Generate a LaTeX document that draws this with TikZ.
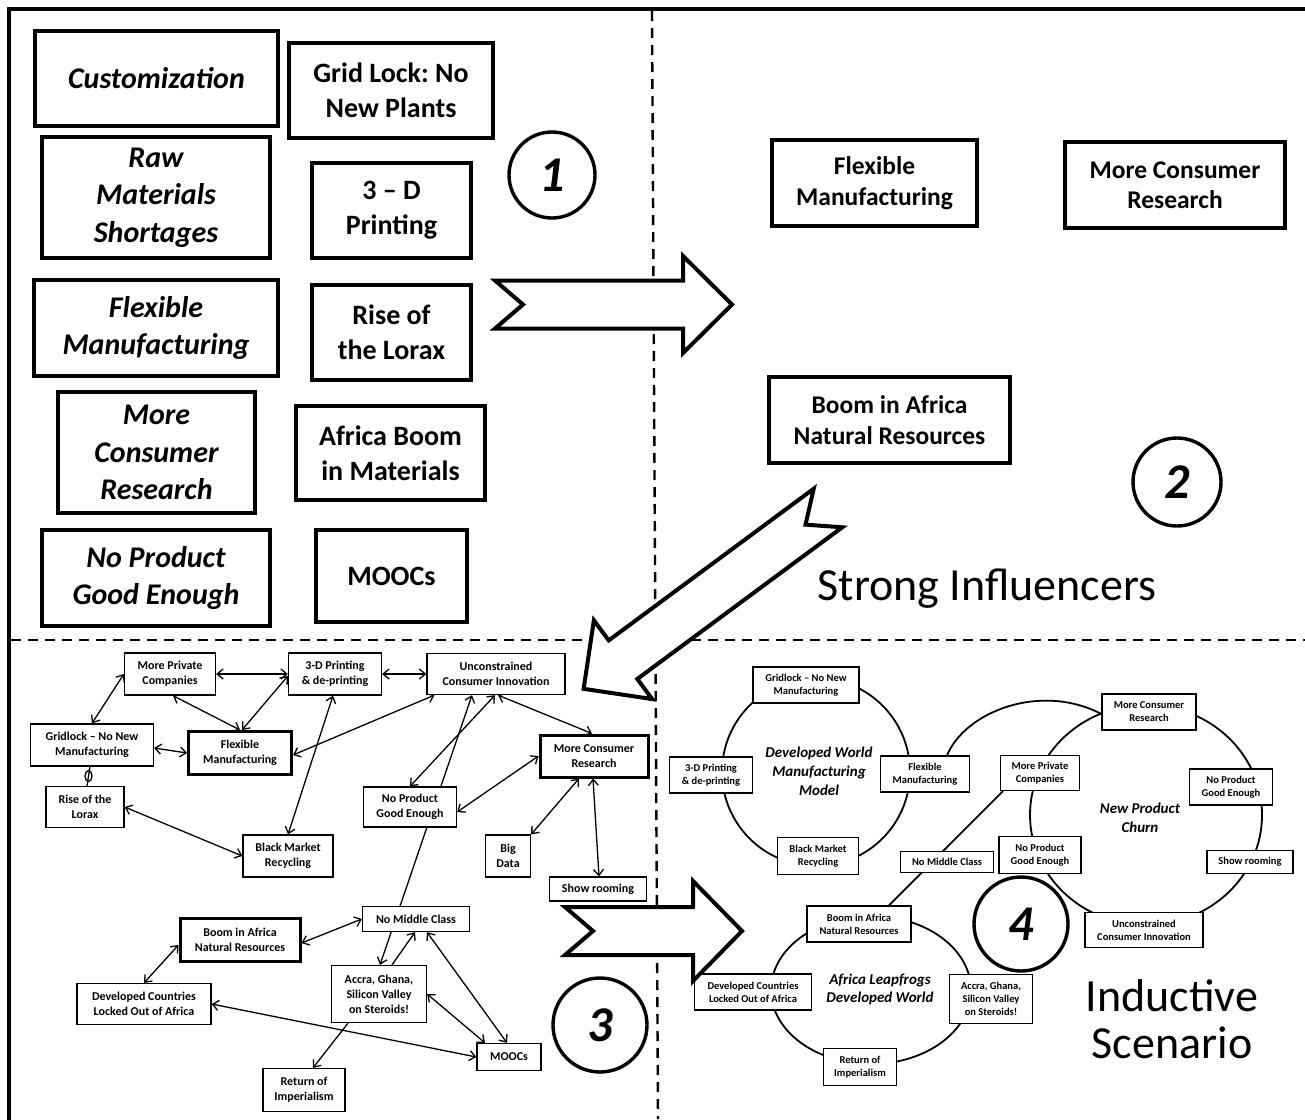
\documentclass[tikz,border=0pt]{standalone}
\usepackage{fontspec}
\setmainfont{Carlito}
\usetikzlibrary{arrows.meta}
\pgfdeclarelayer{bg}
\pgfdeclarelayer{links}
\pgfsetlayers{bg,links,main}
\frenchspacing

% broad block arrow: tail centre, angle, shaft length, head half-width
\newcommand\fatarrow[4]{%
  \draw[fat, shift={#1}, rotate=#2]
    (0,-24) -- (#3,-24) -- (#3,-#4) -- ({#3+49},0) -- (#3,#4) -- (#3,24) -- (0,24) -- (28,0) -- cycle;}

\begin{document}
\begin{tikzpicture}[x=1pt,y=-1pt,
  bigbox/.style={draw, line width=3.6pt, fill=white, inner sep=0pt, align=center},
  itbox/.style={bigbox, font=\fontsize{30}{37.5}\selectfont\bfseries\itshape},
  upbox/.style={bigbox, font=\fontsize{28}{35}\selectfont\bfseries},
  midbox/.style={draw, line width=4pt, fill=white, inner sep=0pt, align=center,
    font=\fontsize{25.5}{30.5}\selectfont\bfseries},
  smallbox/.style={draw, line width=1.3pt, fill=white, inner sep=0pt, align=center,
    font=\fontsize{12}{15}\selectfont\bfseries},
  keybox/.style={smallbox, line width=3pt},
  tinybox/.style={draw, line width=1.2pt, fill=white, inner sep=0pt, align=center,
    font=\fontsize{10.5}{13}\selectfont\bfseries},
  barb/.tip={Straight Barb[length=6pt,width=10pt]},
  link/.style={line width=1.3pt, barb-barb},
  onelink/.style={line width=1.3pt, -barb},
  ring/.style={line width=1.8pt},
  numring/.style={draw, circle, line width=3.4pt, inner sep=0pt,
    font=\fontsize{50}{50}\selectfont\bfseries\itshape},
  fat/.style={line width=4pt, fill=white, line join=miter},
  divider/.style={line width=2.4pt, dash pattern=on 10pt off 7pt},
  bigtext/.style={align=center, font=\fontsize{46}{47}\selectfont},
  ringlabel/.style={align=center, font=\fontsize{15}{19}\selectfont\bfseries\itshape}]

\useasboundingbox (0,0) rectangle (1305,1119);
\begin{pgfonlayer}{bg}
  \fill[white] (0,0) rectangle (1305,1119);
\end{pgfonlayer}

% frame and quadrant dividers
\draw[line width=4pt] (9,9) rectangle (1312,1130);
\draw[divider] (652,11) -- (658,1119);
\draw[divider] (11,640) -- (1305,640);

% ---------- quadrant 1: candidate drivers ----------
\node[itbox, minimum width=243pt, minimum height=95pt] (cust1) at (156.5,78.5) {Customization};
\node[itbox, minimum width=228pt, minimum height=121pt] (raw1) at (156,197.5) {Raw\\Materials\\Shortages};
\node[itbox, minimum width=244pt, minimum height=96pt] (flex1) at (156,328) {Flexible\\Manufacturing};
\node[itbox, minimum width=197pt, minimum height=121pt] (mcr1) at (156.5,452.5) {More\\Consumer\\Research};
\node[itbox, minimum width=228pt, minimum height=96pt] (npg1) at (156,578) {No Product\\Good Enough};

\node[upbox, minimum width=204pt, minimum height=95pt] (grid1) at (391,90.5) {Grid Lock: No\\New Plants};
\node[upbox, minimum width=159pt, minimum height=95pt] (dp1) at (391.5,210.5) {3 – D\\Printing};
\node[upbox, minimum width=159pt, minimum height=95pt] (lor1) at (391.5,332.5) {Rise of\\the Lorax};
\node[upbox, minimum width=189pt, minimum height=94pt] (afr1) at (390.5,453) {Africa Boom\\in Materials};
\node[upbox, minimum width=151pt, minimum height=92pt] (mooc1) at (391.5,576) {MOOCs};

\node[numring, minimum size=86pt] (n1) at (552,175) {1};

% ---------- quadrant 2: strong influencers ----------
\node[midbox, minimum width=205pt, minimum height=86pt] (fm2) at (874.5,183) {Flexible\\Manufacturing};
\node[midbox, minimum width=220pt, minimum height=86pt] (mcr2) at (1175,185) {More Consumer\\Research};
\node[midbox, minimum width=241pt, minimum height=86pt] (baf2) at (889.5,420) {Boom in Africa\\Natural Resources};
\node[numring, minimum size=88pt] (n2) at (1177,482) {2};
\node[bigtext] (strong) at (987,589) {Strong Influencers};

% ---------- quadrant 3: influence network ----------
\node[smallbox, minimum width=91pt, minimum height=42pt] (mpc3) at (170,674) {More Private\\Companies};
\node[smallbox, minimum width=93pt, minimum height=42pt] (dp3) at (335,674) {3-D Printing\\\& de-printing};
\node[smallbox, minimum width=138pt, minimum height=41pt] (uci3) at (496,674) {Unconstrained\\Consumer Innovation};
\node[smallbox, minimum width=123pt, minimum height=42pt] (gl3) at (92,745) {Gridlock – No New\\Manufacturing};
\node[keybox, minimum width=103pt, minimum height=43pt] (fm3) at (240,753) {Flexible\\Manufacturing};
\node[smallbox, minimum width=78pt, minimum height=41pt] (lor3) at (85,807) {Rise of the\\Lorax};
\node[smallbox, minimum width=90pt, minimum height=42pt] (bmr3) at (288,856) {Black Market\\Recycling};
\node[keybox, minimum width=108pt, minimum height=42pt] (mcr3) at (594,756) {More Consumer\\Research};
\node[smallbox, minimum width=93pt, minimum height=40pt] (npg3) at (410,807) {No Product\\Good Enough};
\node[smallbox, minimum width=45pt, minimum height=42pt] (bd3) at (508,856) {Big\\Data};
\node[smallbox, minimum width=97pt, minimum height=24pt] (sr3) at (598,889) {Show rooming};
\node[smallbox, minimum width=107pt, minimum height=25pt] (nmc3) at (416,919) {No Middle Class};
\node[keybox, minimum width=120pt, minimum height=43pt] (baf3) at (240,940) {Boom in Africa\\Natural Resources};
\node[smallbox, minimum width=95pt, minimum height=57pt] (acc3) at (379,994) {Accra, Ghana,\\Silicon Valley\\on Steroids!};
\node[smallbox, minimum width=134pt, minimum height=41pt] (dc3) at (144,1004) {Developed Countries\\Locked Out of Africa};
\node[smallbox, minimum width=64pt, minimum height=27pt] (mooc3) at (509,1057) {MOOCs};
\node[smallbox, minimum width=82pt, minimum height=43pt] (ret3) at (304,1090) {Return of\\Imperialism};
\node[numring, minimum size=94pt] (n3) at (600,1025) {3};

\begin{pgfonlayer}{links}
  \draw[link] (mpc3.east) -- (dp3.west);
  \draw[link] (dp3.east) -- (uci3.west);
  \draw[link] (mpc3.west) -- (gl3.north);
  \draw[link] ([xshift=3pt]mpc3.south) -- (fm3.north);
  \draw[link] ([yshift=-2pt]dp3.west) -- ([xshift=2pt]fm3.north);
  \draw[link] ([yshift=-3pt]gl3.east) -- (fm3.west);
  \draw[link] (lor3.east) -- (bmr3.west);
  \draw[link] ([xshift=8pt]uci3.south west) -- ([yshift=-2pt]fm3.east);
  \draw[link] ([xshift=-2pt]dp3.south) -- (bmr3.north);
  \draw[link] ([xshift=-1pt]uci3.south) -- (npg3.north);
  \draw[link] ([xshift=-24pt]uci3.south) -- ([xshift=1pt]acc3.north);
  \draw[onelink] ([xshift=13pt]acc3.north) -- ([xshift=-1pt]nmc3.south);
  \draw[link] ([xshift=11pt]nmc3.south) -- ([xshift=-2pt]mooc3.north);
  \draw[link] (acc3.east) -- ([xshift=-24pt]mooc3.north);
  \draw[link] (dc3.east) -- (mooc3.west);
  \draw[onelink] ([xshift=-31pt]acc3.south) -- ([xshift=9pt]ret3.north);
  \draw[link] ([yshift=-3pt]baf3.east) -- (nmc3.west);
  \draw[link] ([yshift=-5pt]baf3.west) -- (dc3.north);
  \draw[link] ([xshift=2pt]uci3.south) -- ([xshift=-2pt]mcr3.north);
  \draw[link] (mcr3.west) -- ([yshift=-5pt]npg3.east);
  \draw[link] ([xshift=-15pt]mcr3.south) -- (bd3.north east);
  \draw[link] ([xshift=-1pt]mcr3.south) -- ([xshift=1pt]sr3.north);
  % blocked tie between gridlock and the Lorax
  \draw[line width=1.3pt] ([xshift=-2pt]gl3.south) -- ([xshift=2pt]lor3.north);
  \draw[line width=1.3pt] (88.5,776) ellipse [x radius=3.5pt, y radius=5.5pt];
\end{pgfonlayer}

% ---------- quadrant 4: inductive scenario ----------
\node[tinybox, minimum width=106pt, minimum height=36pt] (gl4) at (806,685) {Gridlock – No New\\Manufacturing};
\node[tinybox, minimum width=83pt, minimum height=36pt] (dp4) at (711,775) {3-D Printing\\\& de-printing};
\node[tinybox, minimum width=89pt, minimum height=36pt] (fm4) at (925,774) {Flexible\\Manufacturing};
\node[tinybox, minimum width=81pt, minimum height=37pt] (bmr4) at (818,856) {Black Market\\Recycling};
\node[ringlabel] (dwm) at (819,771) {Developed World\\Manufacturing\\Model};

\node[tinybox, minimum width=94pt, minimum height=36pt] (mcr4) at (1149,712) {More Consumer\\Research};
\node[tinybox, minimum width=79pt, minimum height=35pt] (mpc4) at (1040,773) {More Private\\Companies};
\node[tinybox, minimum width=82pt, minimum height=37pt] (npga4) at (1040,855) {No Product\\Good Enough};
\node[tinybox, minimum width=83pt, minimum height=36pt] (npgb4) at (1231,787) {No Product\\Good Enough};
\node[tinybox, minimum width=86pt, minimum height=23pt] (sr4) at (1250,862) {Show rooming};
\node[tinybox, minimum width=118pt, minimum height=35pt] (uci4) at (1144,930) {Unconstrained\\Consumer Innovation};
\node[ringlabel] (npc) at (1140,817.5) {New Product\\Churn};

\node[tinybox, minimum width=93pt, minimum height=21pt] (nmc4) at (947,862) {No Middle Class};

\node[tinybox, minimum width=104pt, minimum height=36pt] (baf4) at (859,924) {Boom in Africa\\Natural Resources};
\node[tinybox, minimum width=117pt, minimum height=36pt] (dc4) at (753,992) {Developed Countries\\Locked Out of Africa};
\node[tinybox, minimum width=83pt, minimum height=49pt] (acc4) at (991,999) {Accra, Ghana,\\Silicon Valley\\on Steroids!};
\node[tinybox, minimum width=73pt, minimum height=37pt] (ret4) at (860,1067) {Return of\\Imperialism};
\node[ringlabel, font=\fontsize{15}{18}\selectfont\bfseries\itshape] (alf) at (880,989) {Africa Leapfrogs\\Developed World};

\begin{pgfonlayer}{links}
  \draw[ring] (816,772) circle [radius=94pt];
  \draw[ring] (1146,815) ellipse [x radius=116pt, y radius=110pt];
  \draw[ring] (871,990) ellipse [x radius=100pt, y radius=74pt];
  \draw[ring] ([xshift=22pt]fm4.north) .. controls (965,712) and (1040,682) .. ([yshift=-2pt]mcr4.west);
  \draw[ring] ([xshift=3pt]mpc4.south west) -- ([xshift=30pt]baf4.north);
\end{pgfonlayer}

\node[numring, minimum size=94pt] (n4) at (1021,924) {4};
\node[bigtext] (ind) at (1172,1019.5) {Inductive\\Scenario};

% ---------- block arrows between the stages ----------
\fatarrow{(495,304.5)}{0}{188}{48.5}
\fatarrow{(828,508)}{216.5}{255}{49}
\fatarrow{(565,931)}{0}{128}{50}

\end{tikzpicture}
\end{document}
